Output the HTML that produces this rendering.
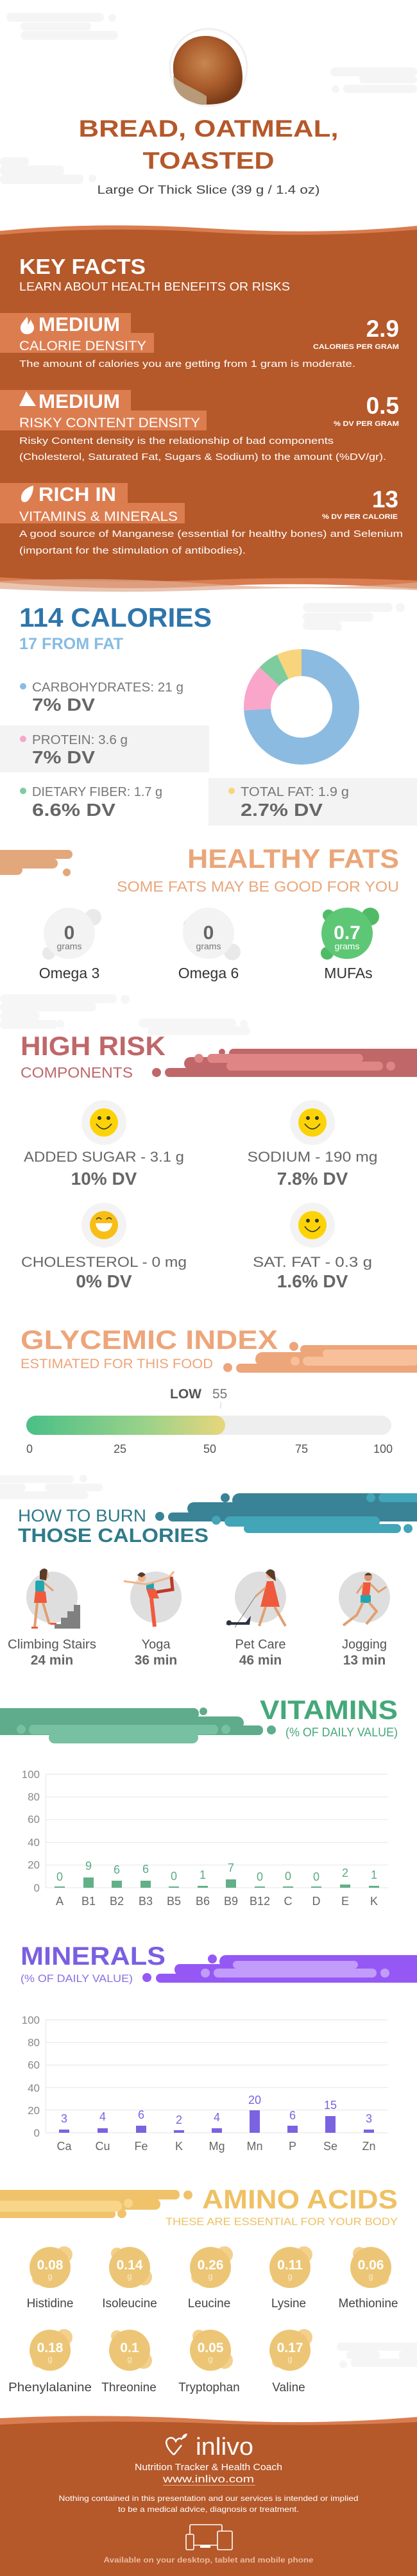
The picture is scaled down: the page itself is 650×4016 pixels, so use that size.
<!DOCTYPE html>
<html><head><meta charset="utf-8"><style>
html,body{margin:0;padding:0;background:#fff;}
svg{display:block;font-family:"Liberation Sans",sans-serif;}
</style></head><body>
<svg width="650" height="4016" viewBox="0 0 650 4016" xmlns="http://www.w3.org/2000/svg">
<defs>
<radialGradient id="brd" cx="0.45" cy="0.4" r="0.6"><stop offset="0" stop-color="#c8874e"/><stop offset="0.6" stop-color="#a85a2a"/><stop offset="1" stop-color="#7a3c18"/></radialGradient>
<linearGradient id="gi" x1="0" x2="1"><stop offset="0" stop-color="#4bbf87"/><stop offset="0.6" stop-color="#9ad28a"/><stop offset="1" stop-color="#e8d67c"/></linearGradient>
</defs>
<rect width="650" height="4016" fill="#fff"/>
<g fill="#f5f5f5">
<rect x="10" y="20" width="152" height="14" rx="7"/><circle cx="175" cy="28" r="6"/>
<rect x="32" y="35" width="110" height="12" rx="6"/><rect x="32" y="48" width="152" height="14" rx="7"/>
<rect x="515" y="105" width="135" height="14" rx="7"/><rect x="560" y="118" width="90" height="12" rx="6"/><rect x="535" y="132" width="115" height="13" rx="6"/><circle cx="523" cy="139" r="6"/>
<rect x="0" y="245" width="45" height="15" rx="7"/><rect x="0" y="258" width="100" height="15" rx="7"/><rect x="0" y="272" width="130" height="15" rx="7"/><circle cx="144" cy="278" r="6"/>
</g>
<circle cx="325" cy="105" r="60" fill="none" stroke="#f0f0f0" stroke-width="3"/>
<path d="M270 110 C268 80 290 55 322 56 C355 57 378 85 378 120 C378 150 360 163 320 163 C290 163 272 140 270 110Z" fill="url(#brd)"/>
<path d="M270 118 C280 130 305 138 322 150 L322 163 C295 162 275 150 271 130Z" fill="#b89a78"/>
<text x="325" y="213" text-anchor="middle" font-size="37" font-weight="bold" fill="#b5582a" textLength="405" lengthAdjust="spacingAndGlyphs">BREAD, OATMEAL,</text>
<text x="325" y="263" text-anchor="middle" font-size="37" font-weight="bold" fill="#b5582a" textLength="205" lengthAdjust="spacingAndGlyphs">TOASTED</text>
<text x="325" y="302" text-anchor="middle" font-size="18" fill="#444" textLength="347" lengthAdjust="spacingAndGlyphs">Large Or Thick Slice (39 g / 1.4 oz)</text>
<path d="M0 360 Q150 345 325 356 T650 352 L650 918 Q480 906 325 914 T0 908Z" fill="#d97c4f"/>
<path d="M0 366 Q160 352 325 362 T650 358 L650 905 Q480 898 325 904 T0 900Z" fill="#b5582a"/>
<path d="M0 906 Q160 898 325 910 T650 908 L650 920 Q480 914 325 920 T0 918Z" fill="#e0ab90" opacity="0.7"/>
<g fill="#fff">
<text x="30" y="427" font-size="33" font-weight="bold" textLength="197" lengthAdjust="spacingAndGlyphs">KEY FACTS</text>
<text x="30" y="453" font-size="18" textLength="422" lengthAdjust="spacingAndGlyphs">LEARN ABOUT HEALTH BENEFITS OR RISKS</text>
</g>
<g fill="#dc7d50">
<rect x="0" y="488" width="204" height="32"/><rect x="0" y="519" width="240" height="31"/>
<rect x="0" y="608" width="204" height="33"/><rect x="0" y="640" width="322" height="31"/>
<rect x="0" y="753" width="199" height="32"/><rect x="0" y="784" width="288" height="32"/>
</g>
<g fill="#fff">
<path d="M42 494 C36 502 31 506 32 513 C33 519 38 521 42 521 C48 521 53 517 53 511 C53 505 49 503 48 498 C46 502 45 505 43 506 C44 502 44 498 42 494Z"/>
<path d="M41 610 L30 633 L56 633Z"/>
<path d="M52 757 C40 760 32 768 33 778 C34 784 40 784 44 780 C50 773 52 765 52 757Z"/>
<text x="60" y="516" font-size="31" font-weight="bold" textLength="127" lengthAdjust="spacingAndGlyphs">MEDIUM</text>
<text x="30" y="546" font-size="21" textLength="198" lengthAdjust="spacingAndGlyphs">CALORIE DENSITY</text>
<text x="622" y="525" text-anchor="end" font-size="37" font-weight="bold">2.9</text>
<text x="622" y="544" text-anchor="end" font-size="11" font-weight="bold" textLength="134" lengthAdjust="spacingAndGlyphs">CALORIES PER GRAM</text>
<text x="30" y="572" font-size="15" textLength="524" lengthAdjust="spacingAndGlyphs">The amount of calories you are getting from 1 gram is moderate.</text>
<text x="60" y="636" font-size="31" font-weight="bold" textLength="127" lengthAdjust="spacingAndGlyphs">MEDIUM</text>
<text x="30" y="666" font-size="21" textLength="282" lengthAdjust="spacingAndGlyphs">RISKY CONTENT DENSITY</text>
<text x="622" y="645" text-anchor="end" font-size="37" font-weight="bold">0.5</text>
<text x="622" y="664" text-anchor="end" font-size="11" font-weight="bold" textLength="102" lengthAdjust="spacingAndGlyphs">% DV PER GRAM</text>
<text x="30" y="692" font-size="15" textLength="490" lengthAdjust="spacingAndGlyphs">Risky Content density is the relationship of bad components</text>
<text x="30" y="717" font-size="15" textLength="572" lengthAdjust="spacingAndGlyphs">(Cholesterol, Saturated Fat, Sugars &amp; Sodium) to the amount (%DV/gr).</text>
<text x="60" y="781" font-size="31" font-weight="bold" textLength="121" lengthAdjust="spacingAndGlyphs">RICH  IN</text>
<text x="30" y="812" font-size="21" textLength="247" lengthAdjust="spacingAndGlyphs">VITAMINS &amp; MINERALS</text>
<text x="621" y="791" text-anchor="end" font-size="37" font-weight="bold">13</text>
<text x="620" y="809" text-anchor="end" font-size="11" font-weight="bold" textLength="118" lengthAdjust="spacingAndGlyphs">% DV PER CALORIE</text>
<text x="30" y="837" font-size="15" textLength="598" lengthAdjust="spacingAndGlyphs">A good source of Manganese (essential for healthy bones) and Selenium</text>
<text x="30" y="863" font-size="15" textLength="353" lengthAdjust="spacingAndGlyphs">(important for the stimulation of antibodies).</text>
</g>
<g fill="#f5f5f5"><rect x="472" y="940" width="140" height="14" rx="7"/><circle cx="624" cy="947" r="7"/><rect x="472" y="955" width="110" height="14" rx="7"/><rect x="472" y="968" width="60" height="14" rx="7"/><circle cx="527" cy="978" r="6"/></g>
<text x="30" y="977" font-size="42" font-weight="bold" fill="#2e75ab" textLength="300" lengthAdjust="spacingAndGlyphs">114 CALORIES</text>
<text x="30" y="1012" font-size="25" font-weight="bold" fill="#85bce3" textLength="162" lengthAdjust="spacingAndGlyphs">17 FROM FAT</text>
<g transform="rotate(-90 470 1102)" fill="none" stroke-width="42">
<circle cx="470" cy="1102" r="69" stroke="#8bbbe1" stroke-dasharray="320.8 433.5"/>
<circle cx="470" cy="1102" r="69" stroke="#f9a6ca" stroke-dasharray="56.4 433.5" stroke-dashoffset="-320.8"/>
<circle cx="470" cy="1102" r="69" stroke="#7ecb9e" stroke-dasharray="26 433.5" stroke-dashoffset="-377.2"/>
<circle cx="470" cy="1102" r="69" stroke="#f8d47c" stroke-dasharray="30.3 433.5" stroke-dashoffset="-403.2"/>
</g>
<rect x="0" y="1131" width="326" height="73" fill="#f3f3f3"/>
<rect x="325" y="1213" width="325" height="74" fill="#f3f3f3"/>
<circle cx="36" cy="1070" r="5" fill="#8bbbe1"/><circle cx="36" cy="1152" r="5" fill="#f9a6ca"/><circle cx="36" cy="1233" r="5" fill="#7ecb9e"/><circle cx="361" cy="1233" r="5" fill="#f8d47c"/>
<g font-size="20" fill="#777">
<text x="50" y="1078" textLength="236" lengthAdjust="spacingAndGlyphs">CARBOHYDRATES: 21 g</text>
<text x="50" y="1160" textLength="149" lengthAdjust="spacingAndGlyphs">PROTEIN: 3.6 g</text>
<text x="50" y="1241" textLength="203" lengthAdjust="spacingAndGlyphs">DIETARY FIBER: 1.7 g</text>
<text x="375" y="1241" textLength="169" lengthAdjust="spacingAndGlyphs">TOTAL FAT: 1.9 g</text>
</g>
<g font-size="28" font-weight="bold" fill="#666">
<text x="50" y="1108" textLength="98" lengthAdjust="spacingAndGlyphs">7% DV</text>
<text x="50" y="1190" textLength="98" lengthAdjust="spacingAndGlyphs">7% DV</text>
<text x="50" y="1272" textLength="130" lengthAdjust="spacingAndGlyphs">6.6% DV</text>
<text x="375" y="1272" textLength="128" lengthAdjust="spacingAndGlyphs">2.7% DV</text>
</g>
<g fill="#e2a77b"><rect x="-10" y="1325" width="123" height="14" rx="7"/><rect x="-10" y="1338" width="100" height="16" rx="8"/><circle cx="104" cy="1360" r="6"/><rect x="-10" y="1348" width="45" height="16" rx="8"/></g>
<text x="622" y="1353" text-anchor="end" font-size="42" font-weight="bold" fill="#eaa679" textLength="330" lengthAdjust="spacingAndGlyphs">HEALTHY FATS</text>
<text x="622" y="1390" text-anchor="end" font-size="23" fill="#eaa679" textLength="440" lengthAdjust="spacingAndGlyphs">SOME FATS MAY BE GOOD FOR YOU</text>
<g fill="#e9e9e9"><circle cx="145" cy="1430" r="13"/><circle cx="76" cy="1486" r="10"/><circle cx="296" cy="1442" r="10"/><circle cx="362" cy="1484" r="13"/></g>
<circle cx="108" cy="1455" r="40" fill="#f3f3f3"/><circle cx="325" cy="1455" r="40" fill="#f3f3f3"/>
<g fill="#4fbb66"><circle cx="577" cy="1429" r="14"/><circle cx="512" cy="1427" r="9"/><circle cx="510" cy="1486" r="10"/></g>
<circle cx="541" cy="1455" r="40" fill="#5ec775"/>
<g text-anchor="middle">
<text x="108" y="1464" font-size="30" font-weight="bold" fill="#666">0</text>
<text x="325" y="1464" font-size="30" font-weight="bold" fill="#666">0</text>
<text x="541" y="1464" font-size="30" font-weight="bold" fill="#fff">0.7</text>
<text x="108" y="1480" font-size="14" fill="#777">grams</text>
<text x="325" y="1480" font-size="14" fill="#777">grams</text>
<text x="541" y="1480" font-size="14" fill="#fff">grams</text>
<g font-size="23" fill="#333"><text x="108" y="1525">Omega 3</text><text x="325" y="1525">Omega 6</text><text x="543" y="1525">MUFAs</text></g>
</g>
<g fill="#f6f6f6"><rect x="0" y="1550" width="182" height="14" rx="7"/><circle cx="195" cy="1558" r="7"/><rect x="0" y="1563" width="150" height="14" rx="7"/><rect x="0" y="1577" width="62" height="14" rx="7"/><rect x="0" y="1590" width="90" height="14" rx="7"/><circle cx="94" cy="1596" r="6"/><rect x="216" y="1588" width="152" height="14" rx="7"/><circle cx="380" cy="1596" r="6"/><rect x="230" y="1600" width="160" height="14" rx="7"/></g>
<g fill="#bf6769"><rect x="357" y="1635" width="300" height="15" rx="7"/><rect x="287" y="1648" width="370" height="20" rx="10"/><rect x="257" y="1665" width="400" height="14" rx="7"/><circle cx="244" cy="1672" r="7"/><circle cx="346" cy="1640" r="5"/></g>
<g fill="#e08585"><rect x="323" y="1643" width="243" height="14" rx="7"/><rect x="353" y="1655" width="244" height="14" rx="7"/><circle cx="310" cy="1650" r="7"/><circle cx="609" cy="1662" r="7"/></g>
<text x="32" y="1645" font-size="42" font-weight="bold" fill="#bf6769" textLength="226" lengthAdjust="spacingAndGlyphs">HIGH RISK</text>
<text x="32" y="1680" font-size="23" fill="#bf6769" textLength="175" lengthAdjust="spacingAndGlyphs">COMPONENTS</text>
<g fill="#f3f3f3"><circle cx="162" cy="1750" r="35"/><circle cx="487" cy="1750" r="35"/><circle cx="162" cy="1910" r="35"/><circle cx="487" cy="1910" r="35"/></g>
<g>
<circle cx="162" cy="1750" r="22" fill="#fcd307"/><circle cx="155" cy="1743" r="3" fill="#333"/><circle cx="169" cy="1743" r="3" fill="#333"/><path d="M150 1752 Q162 1768 174 1752" fill="none" stroke="#333" stroke-width="1.5"/>
<circle cx="487" cy="1750" r="22" fill="#fcd307"/><circle cx="480" cy="1743" r="3" fill="#333"/><circle cx="494" cy="1743" r="3" fill="#333"/><path d="M475 1752 Q487 1768 499 1752" fill="none" stroke="#333" stroke-width="1.5"/>
<circle cx="162" cy="1910" r="22" fill="#f7be16"/><path d="M150 1901 q4 -5 8 0 M166 1901 q4 -5 8 0" fill="none" stroke="#333" stroke-width="1.5"/><path d="M149 1907 h26 q-2 13 -13 13 q-11 0 -13 -13z" fill="#fff"/>
<circle cx="487" cy="1910" r="22" fill="#fcd307"/><circle cx="480" cy="1903" r="3" fill="#333"/><circle cx="494" cy="1903" r="3" fill="#333"/><path d="M475 1912 Q487 1928 499 1912" fill="none" stroke="#333" stroke-width="1.5"/>
</g>
<g text-anchor="middle">
<g font-size="22" fill="#666">
<text x="162" y="1811" textLength="250" lengthAdjust="spacingAndGlyphs">ADDED SUGAR - 3.1 g</text>
<text x="487" y="1811" textLength="203" lengthAdjust="spacingAndGlyphs">SODIUM - 190 mg</text>
<text x="162" y="1975" textLength="258" lengthAdjust="spacingAndGlyphs">CHOLESTEROL - 0 mg</text>
<text x="487" y="1975" textLength="186" lengthAdjust="spacingAndGlyphs">SAT. FAT - 0.3 g</text>
</g>
<g font-size="28" font-weight="bold" fill="#666">
<text x="162" y="1847">10% DV</text><text x="487" y="1847">7.8% DV</text>
<text x="162" y="2007">0% DV</text><text x="487" y="2007">1.6% DV</text>
</g>
</g>
<g fill="#eda57a"><rect x="468" y="2097" width="190" height="14" rx="7"/><circle cx="458" cy="2099" r="7"/><rect x="398" y="2108" width="260" height="22" rx="11"/><rect x="368" y="2126" width="290" height="14" rx="7"/><circle cx="355" cy="2132" r="7"/></g>
<g fill="#f7c09a"><rect x="503" y="2104" width="150" height="12" rx="6"/><rect x="472" y="2115" width="180" height="14" rx="7"/><circle cx="460" cy="2122" r="7"/></g>
<text x="32" y="2103" font-size="42" font-weight="bold" fill="#eda57a" textLength="401" lengthAdjust="spacingAndGlyphs">GLYCEMIC INDEX</text>
<text x="32" y="2133" font-size="21" fill="#eda57a" textLength="300" lengthAdjust="spacingAndGlyphs">ESTIMATED FOR THIS FOOD</text>
<text x="265" y="2180" font-size="21" font-weight="bold" fill="#555">LOW</text>
<text x="331" y="2180" font-size="21" fill="#777">55</text>
<rect x="343.5" y="2186" width="1" height="10" fill="#ccc"/>
<rect x="41" y="2207" width="569" height="30" rx="15" fill="#eee"/>
<rect x="41" y="2207" width="310" height="30" rx="15" fill="url(#gi)"/>
<g font-size="18" fill="#555" text-anchor="middle"><text x="46" y="2265">0</text><text x="187" y="2265">25</text><text x="327" y="2265">50</text><text x="470" y="2265">75</text><text x="597" y="2265">100</text></g>
<g fill="#f5f5f5"><rect x="-10" y="2300" width="125" height="12" rx="6"/><circle cx="130" cy="2305" r="6"/><rect x="-10" y="2313" width="50" height="12" rx="6"/><rect x="70" y="2313" width="90" height="12" rx="6"/><rect x="-10" y="2325" width="148" height="12" rx="6"/></g>
<g fill="#3a8296"><rect x="362" y="2328" width="300" height="22" rx="11"/><circle cx="351" cy="2335" r="7"/><rect x="292" y="2342" width="370" height="20" rx="10"/><rect x="262" y="2358" width="400" height="14" rx="7"/><circle cx="249" cy="2364" r="7"/></g>
<g fill="#42a5b8"><rect x="590" y="2328" width="70" height="14" rx="7"/><circle cx="578" cy="2335" r="7"/><rect x="350" y="2364" width="242" height="16" rx="8"/><circle cx="337" cy="2370" r="7"/><rect x="380" y="2376" width="245" height="14" rx="7"/><circle cx="636" cy="2383" r="7"/></g>
<text x="28" y="2372" font-size="27" fill="#2f7a8a" textLength="200" lengthAdjust="spacingAndGlyphs">HOW TO BURN</text>
<text x="28" y="2404" font-size="31" font-weight="bold" fill="#2f7a8a" textLength="297" lengthAdjust="spacingAndGlyphs">THOSE CALORIES</text>
<g fill="#dedede"><circle cx="81" cy="2490" r="40"/><circle cx="243" cy="2490" r="40"/><circle cx="406" cy="2490" r="40"/><circle cx="568" cy="2490" r="40"/></g>
<g>
<path d="M43 2539 H125 V2502 H115 V2512 H105 V2522 H95 V2532 H85 V2539Z" fill="#808080"/>
<circle cx="70" cy="2456" r="6" fill="#f0b489"/><path d="M62 2450 q6 -8 12 -2 l-2 16 l-10 -2z" fill="#5b3b2a"/>
<rect x="55" y="2464" width="14" height="18" rx="3" fill="#20a6b3"/><path d="M55 2481 h16 l2 18 h-20z" fill="#f05a3c"/>
<path d="M58 2499 l-4 38 M67 2499 l10 33" stroke="#e0a070" stroke-width="4"/><path d="M49 2536 h10 v3 h-10z M78 2530 h10 v3 h-10z" fill="#f05a3c"/>
<path d="M69 2468 l14 12" stroke="#e0a070" stroke-width="3"/>
</g>
<g>
<circle cx="221" cy="2460" r="6" fill="#f0b489"/><path d="M214 2456 q6 -9 13 -1 l-6 4z" fill="#5b3b2a"/>
<rect x="228" y="2468" width="12" height="10" fill="#20a6b3"/><path d="M228 2477 h14 l6 15 h-15z" fill="#f05a3c"/>
<path d="M236 2492 l5 44" stroke="#f05a3c" stroke-width="6"/><path d="M244 2482 l25 -4 l-2 -20" stroke="#c0392b" stroke-width="5" fill="none"/>
<path d="M193 2465 l35 5 l35 -10 l8 -10" stroke="#f0b489" stroke-width="3" fill="none"/>
</g>
<g>
<circle cx="421" cy="2455" r="6" fill="#f0b489"/><path d="M414 2452 q6 -10 14 -2 l2 15 l-6 -4z" fill="#5b3b2a"/>
<path d="M416 2465 h10 l10 40 h-30z" fill="#f05a3c"/>
<path d="M414 2505 l-10 30 M428 2505 l17 30" stroke="#e0a070" stroke-width="4"/>
<path d="M414 2475 l-16 14" stroke="#e0a070" stroke-width="3"/><path d="M398 2489 l-32 48" stroke="#666" stroke-width="0.8"/>
<path d="M353 2529 h30 l8 -10 l-2 14 h-36z" fill="#2c3345"/><circle cx="357" cy="2530" r="4" fill="#2c3345"/>
</g>
<g>
<circle cx="574" cy="2459" r="6" fill="#d8946a"/><path d="M568 2456 q6 -8 12 0z" fill="#5b3b2a"/>
<path d="M566 2467 h12 l-2 20 h-12z" fill="#f05a3c"/><path d="M562 2487 h16 v12 h-16z" fill="#20a6b3"/>
<path d="M566 2498 l-10 20 l-21 16 M575 2498 l12 14 l-16 20" stroke="#e0a070" stroke-width="4" fill="none"/>
<path d="M566 2470 l-10 14 M578 2470 l12 12 l12 -8" stroke="#e0a070" stroke-width="3" fill="none"/>
</g>
<g text-anchor="middle">
<g font-size="20" fill="#555"><text x="81" y="2570" textLength="138" lengthAdjust="spacingAndGlyphs">Climbing Stairs</text><text x="243" y="2570">Yoga</text><text x="406" y="2570">Pet Care</text><text x="568" y="2570">Jogging</text></g>
<g font-size="21" font-weight="bold" fill="#666"><text x="81" y="2595">24 min</text><text x="243" y="2595">36 min</text><text x="406" y="2595">46 min</text><text x="568" y="2595">13 min</text></g>
</g>
<g fill="#5fac8c"><rect x="-10" y="2663" width="320" height="17" rx="8"/><circle cx="317" cy="2668" r="6"/><rect x="-10" y="2676" width="390" height="20" rx="10"/><rect x="-10" y="2690" width="420" height="15" rx="7"/><circle cx="423" cy="2697" r="7"/></g>
<g fill="#78c0a2"><rect x="45" y="2689" width="295" height="15" rx="7"/><circle cx="33" cy="2696" r="7"/><circle cx="352" cy="2696" r="7"/><rect x="76" y="2700" width="233" height="18" rx="9"/></g>
<text x="620" y="2680" text-anchor="end" font-size="42" font-weight="bold" fill="#45a87a" textLength="215" lengthAdjust="spacingAndGlyphs">VITAMINS</text>
<text x="620" y="2707" text-anchor="end" font-size="19" fill="#45a87a" textLength="175" lengthAdjust="spacingAndGlyphs">(% OF DAILY VALUE)</text>
<g stroke="#e6e6e6" stroke-width="1"><line x1="71" y1="2766" x2="605" y2="2766"/><line x1="71" y1="2801.4" x2="605" y2="2801.4"/><line x1="71" y1="2836.8" x2="605" y2="2836.8"/><line x1="71" y1="2872.2" x2="605" y2="2872.2"/><line x1="71" y1="2907.6" x2="605" y2="2907.6"/><line x1="71" y1="2943" x2="605" y2="2943"/><line x1="71.5" y1="2766" x2="71.5" y2="2943"/></g>
<g font-size="17" fill="#888" text-anchor="end"><text x="62" y="2772">100</text><text x="62" y="2807">80</text><text x="62" y="2842">60</text><text x="62" y="2878">40</text><text x="62" y="2913">20</text><text x="62" y="2949">0</text></g>
<g fill="#62b087">
<rect x="85" y="2941" width="16" height="2"/><rect x="130" y="2927" width="16" height="16"/><rect x="174" y="2932" width="16" height="11"/><rect x="219" y="2932" width="16" height="11"/><rect x="263" y="2941" width="16" height="2"/><rect x="308" y="2940" width="16" height="3"/><rect x="352" y="2930" width="16" height="13"/><rect x="397" y="2941" width="16" height="2"/><rect x="441" y="2941" width="16" height="2"/><rect x="485" y="2941" width="16" height="2"/><rect x="530" y="2938" width="16" height="5"/><rect x="575" y="2940" width="16" height="3"/>
</g>
<g font-size="18" fill="#5aaa85" text-anchor="middle">
<text x="93" y="2932">0</text><text x="138" y="2915">9</text><text x="182" y="2921">6</text><text x="227" y="2920">6</text><text x="271" y="2931">0</text><text x="316" y="2929">1</text><text x="360" y="2918">7</text><text x="405" y="2932">0</text><text x="449" y="2931">0</text><text x="493" y="2932">0</text><text x="538" y="2926">2</text><text x="583" y="2929">1</text>
</g>
<g font-size="18" fill="#666" text-anchor="middle">
<text x="93" y="2970">A</text><text x="138" y="2970">B1</text><text x="182" y="2970">B2</text><text x="227" y="2970">B3</text><text x="271" y="2970">B5</text><text x="316" y="2970">B6</text><text x="360" y="2970">B9</text><text x="405" y="2970">B12</text><text x="449" y="2970">C</text><text x="493" y="2970">D</text><text x="538" y="2970">E</text><text x="583" y="2970">K</text>
</g>
<g fill="#9558f5"><rect x="342" y="3048" width="320" height="20" rx="10"/><circle cx="331" cy="3054" r="7"/><rect x="272" y="3062" width="390" height="17" rx="8"/><rect x="243" y="3077" width="420" height="14" rx="7"/><circle cx="229" cy="3083" r="7"/></g>
<g fill="#c19cfa"><rect x="363" y="3057" width="195" height="12" rx="6"/><rect x="333" y="3069" width="254" height="14" rx="7"/><circle cx="320" cy="3076" r="7"/><circle cx="600" cy="3076" r="7"/></g>
<text x="32" y="3063" font-size="40" font-weight="bold" fill="#7b5fe0" textLength="226" lengthAdjust="spacingAndGlyphs">MINERALS</text>
<text x="32" y="3090" font-size="17" fill="#8a70e0" textLength="175" lengthAdjust="spacingAndGlyphs">(% OF DAILY VALUE)</text>
<g stroke="#e6e6e6" stroke-width="1"><line x1="71" y1="3149" x2="605" y2="3149"/><line x1="71" y1="3184.2" x2="605" y2="3184.2"/><line x1="71" y1="3219.4" x2="605" y2="3219.4"/><line x1="71" y1="3254.6" x2="605" y2="3254.6"/><line x1="71" y1="3289.8" x2="605" y2="3289.8"/><line x1="71" y1="3325" x2="605" y2="3325"/><line x1="71.5" y1="3149" x2="71.5" y2="3325"/></g>
<g font-size="17" fill="#888" text-anchor="end"><text x="62" y="3155">100</text><text x="62" y="3190">80</text><text x="62" y="3225">60</text><text x="62" y="3261">40</text><text x="62" y="3296">20</text><text x="62" y="3331">0</text></g>
<g fill="#7b62e0">
<rect x="92" y="3320" width="16" height="5"/><rect x="152" y="3318" width="16" height="7"/><rect x="212" y="3314" width="16" height="11"/><rect x="271" y="3321" width="16" height="4"/><rect x="330" y="3318" width="16" height="7"/><rect x="389" y="3290" width="16" height="35"/><rect x="448" y="3314" width="16" height="11"/><rect x="507" y="3299" width="16" height="26"/><rect x="567" y="3320" width="16" height="5"/>
</g>
<g font-size="18" fill="#7b62e0" text-anchor="middle">
<text x="100" y="3309">3</text><text x="160" y="3306">4</text><text x="220" y="3303">6</text><text x="279" y="3311">2</text><text x="338" y="3307">4</text><text x="397" y="3280">20</text><text x="456" y="3304">6</text><text x="515" y="3288">15</text><text x="575" y="3309">3</text>
</g>
<g font-size="18" fill="#666" text-anchor="middle">
<text x="100" y="3352">Ca</text><text x="160" y="3352">Cu</text><text x="220" y="3352">Fe</text><text x="279" y="3352">K</text><text x="338" y="3352">Mg</text><text x="397" y="3352">Mn</text><text x="456" y="3352">P</text><text x="515" y="3352">Se</text><text x="575" y="3352">Zn</text>
</g>
<g fill="#f0c36b"><rect x="-10" y="3414" width="290" height="15" rx="7"/><circle cx="293" cy="3422" r="7"/><rect x="-10" y="3428" width="260" height="17" rx="8"/><rect x="-10" y="3445" width="190" height="13" rx="6"/><circle cx="190" cy="3451" r="7"/></g>
<g fill="#f9d58a"><rect x="-10" y="3431" width="200" height="17" rx="8"/><circle cx="200" cy="3435" r="7"/></g>
<text x="620" y="3443" text-anchor="end" font-size="42" font-weight="bold" fill="#efc164" textLength="305" lengthAdjust="spacingAndGlyphs">AMINO ACIDS</text>
<text x="620" y="3469" text-anchor="end" font-size="17" fill="#efc164" textLength="362" lengthAdjust="spacingAndGlyphs">THESE ARE ESSENTIAL FOR YOUR BODY</text>
<g fill="#f3d08c">
<circle cx="100" cy="3515" r="13"/><circle cx="60" cy="3552" r="10"/><circle cx="224" cy="3550" r="13"/><circle cx="182" cy="3513" r="9"/><circle cx="350" cy="3515" r="13"/><circle cx="308" cy="3550" r="10"/><circle cx="474" cy="3515" r="13"/><circle cx="434" cy="3550" r="10"/><circle cx="560" cy="3513" r="10"/><circle cx="596" cy="3552" r="10"/>
<circle cx="100" cy="3644" r="13"/><circle cx="60" cy="3681" r="10"/><circle cx="224" cy="3680" r="13"/><circle cx="182" cy="3642" r="9"/><circle cx="350" cy="3680" r="13"/><circle cx="310" cy="3642" r="10"/><circle cx="474" cy="3644" r="13"/><circle cx="434" cy="3681" r="10"/>
</g>
<g fill="#ecc676"><circle cx="78" cy="3535" r="32"/><circle cx="202" cy="3535" r="32"/><circle cx="328" cy="3535" r="32"/><circle cx="452" cy="3535" r="32"/><circle cx="578" cy="3535" r="32"/><circle cx="78" cy="3664" r="32"/><circle cx="202" cy="3664" r="32"/><circle cx="328" cy="3664" r="32"/><circle cx="452" cy="3664" r="32"/></g>
<g text-anchor="middle">
<g font-size="21" font-weight="bold" fill="#fff"><text x="78" y="3538">0.08</text><text x="202" y="3538">0.14</text><text x="328" y="3538">0.26</text><text x="452" y="3538">0.11</text><text x="578" y="3538">0.06</text><text x="78" y="3667">0.18</text><text x="202" y="3667">0.1</text><text x="328" y="3667">0.05</text><text x="452" y="3667">0.17</text></g>
<g font-size="13" fill="#fbecc8"><text x="78" y="3553">g</text><text x="202" y="3553">g</text><text x="328" y="3553">g</text><text x="452" y="3553">g</text><text x="578" y="3553">g</text><text x="78" y="3682">g</text><text x="202" y="3682">g</text><text x="328" y="3682">g</text><text x="452" y="3682">g</text></g>
<g font-size="19" fill="#444"><text x="78" y="3597">Histidine</text><text x="202" y="3597">Isoleucine</text><text x="326" y="3597">Leucine</text><text x="450" y="3597">Lysine</text><text x="574" y="3597">Methionine</text><text x="78" y="3728" textLength="130" lengthAdjust="spacingAndGlyphs">Phenylalanine</text><text x="201" y="3728">Threonine</text><text x="326" y="3728">Tryptophan</text><text x="450" y="3728">Valine</text></g>
</g>
<g fill="#f5f5f5"><rect x="525" y="3652" width="135" height="13" rx="6"/><rect x="540" y="3665" width="52" height="13" rx="6"/><rect x="622" y="3665" width="40" height="13" rx="6"/><rect x="547" y="3677" width="115" height="13" rx="6"/><circle cx="535" cy="3686" r="6"/></g>
<path d="M0 3770 Q160 3762 325 3772 T650 3768 L650 4016 L0 4016Z" fill="#d97c4f"/>
<path d="M0 3780 Q160 3772 325 3778 T650 3776 L650 4016 L0 4016Z" fill="#b5582a"/>
<path d="M271 3827 C258 3815 256 3804 264 3801 C270 3799 273 3804 274 3806 C276 3802 280 3800 284 3803" fill="none" stroke="#fff" stroke-width="2.5"/>
<path d="M271 3827 L283 3812" stroke="#fff" stroke-width="2.5"/><path d="M283 3802 C284 3796 288 3794 292 3794 C291 3799 288 3802 283 3802Z" fill="#fff"/>
<text x="305" y="3827" font-size="38" fill="#fff" textLength="90" lengthAdjust="spacingAndGlyphs">inlivo</text>
<g fill="#fff" text-anchor="middle">
<text x="325" y="3851" font-size="14.5" textLength="230" lengthAdjust="spacingAndGlyphs">Nutrition Tracker &amp; Health Coach</text>
<text x="325" y="3870" font-size="16" textLength="142" lengthAdjust="spacingAndGlyphs">www.inlivo.com</text>
<text x="325" y="3899" font-size="12" textLength="467" lengthAdjust="spacingAndGlyphs">Nothing contained in this presentation and our services is intended or implied</text>
<text x="325" y="3916" font-size="12" textLength="282" lengthAdjust="spacingAndGlyphs">to be a medical advice, diagnosis or treatment.</text>
</g>
<rect x="254" y="3874" width="144" height="0.8" fill="#f0c0a8"/>
<g fill="none" stroke="#fff" stroke-width="1.6">
<rect x="296" y="3936" width="50" height="32" rx="2"/><rect x="290" y="3951" width="12" height="24" rx="2" fill="#b5582a"/><rect x="339" y="3946" width="23" height="29" rx="2" fill="#b5582a"/>
</g>
<rect x="312" y="3968" width="16" height="4" fill="#fff"/>
<text x="325" y="3995" text-anchor="middle" font-size="12" font-weight="bold" fill="#ebb89d" textLength="327" lengthAdjust="spacingAndGlyphs">Available on your desktop, tablet and mobile phone</text>
</svg>
</body></html>
